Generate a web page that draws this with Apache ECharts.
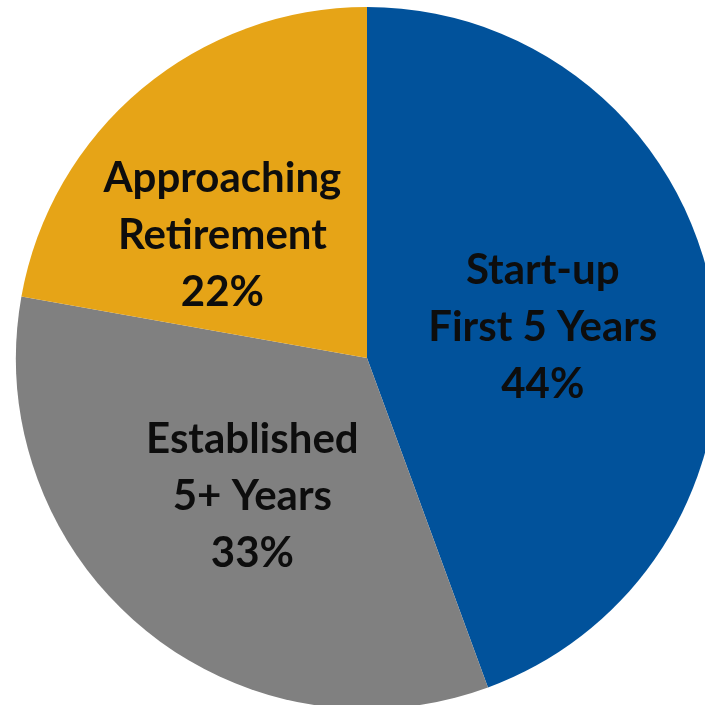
<!DOCTYPE html>
<html>
<head>
<meta charset="utf-8">
<script src="https://cdn.jsdelivr.net/npm/echarts@6/dist/echarts.min.js"></script>
<style>html,body{margin:0;padding:0;background:#fff}#c{width:705px;height:705px}</style>
</head>
<body>
<div id="c"></div>
<script>
const categories = ['Start-up\nFirst 5 Years', 'Established\n5+ Years', 'Approaching\nRetirement'];
const values = [44.4, 33.4, 22.2];
const colors = ['#01529B', '#808080', '#E6A417'];
const labelOffsets = [[0, 1], [0, 2], [-30, 14]];

const chart = echarts.init(document.getElementById('c'), null, {renderer: 'canvas'});
chart.setOption({
  animation: false,
  series: [{
    type: 'pie',
    center: [367, 358],
    radius: 351,
    startAngle: 90,
    clockwise: true,
    avoidLabelOverlap: false,
    itemStyle: {borderWidth: 0},
    emphasis: {disabled: true},
    label: {
      show: true,
      position: 'inside',
      formatter: p => p.name + '\n' + Math.round(p.value) + '%',
      fontFamily: 'Lato',
      fontWeight: 'bold',
      fontSize: 42,
      lineHeight: 57,
      color: '#0d0d0d',
      align: 'center'
    },
    labelLine: {show: false},
    data: categories.map((n, i) => ({
      name: n,
      value: values[i],
      itemStyle: {color: colors[i]},
      label: {offset: labelOffsets[i]}
    }))
  }]
});
</script>
</body>
</html>
